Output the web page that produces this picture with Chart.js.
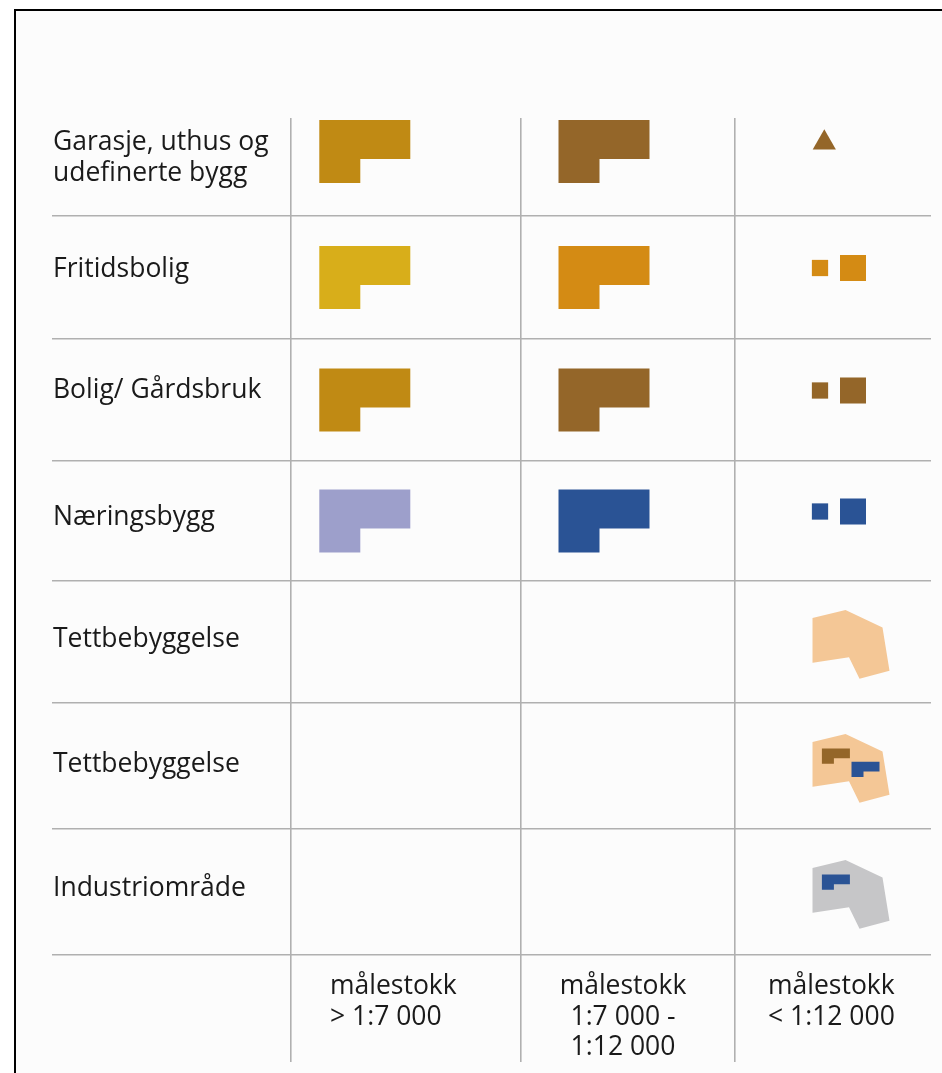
<!DOCTYPE html>
<html lang="no">
<head>
<meta charset="utf-8">
<title>Bygningssymboler etter målestokk</title>
<script src="https://cdn.jsdelivr.net/npm/chart.js@4/dist/chart.umd.min.js"></script>
<style>
  html, body { margin: 0; padding: 0; background: #fff; }
  canvas { display: block; }
</style>
</head>
<body>
<canvas id="legendTable" width="942" height="1073"></canvas>
<script>
  // rows of the table
  const buildingTypes = [
    ['Garasje, uthus og', 'udefinerte bygg'],
    ['Fritidsbolig'],
    ['Bolig/ Gårdsbruk'],
    ['Næringsbygg'],
    ['Tettbebyggelse'],
    ['Tettbebyggelse'],
    ['Industriområde']
  ];
  // columns of the table
  const scaleClasses = [
    ['målestokk', '> 1:7 000'],
    ['målestokk', '1:7 000 -', '1:12 000'],
    ['målestokk', '< 1:12 000']
  ];
  // symbol colour per row and scale class (null = no symbol)
  const largeScaleColours  = ['#c08a14', '#d8ae1a', '#c08a14', '#9d9fcb', null, null, null];
  const mediumScaleColours = ['#946629', '#d48b14', '#946629', '#2a5395', null, null, null];
  const smallScaleSymbols  = ['triangle', 'squares', 'squares', 'squares', 'area', 'area', 'area'];
  const smallScaleColours  = ['#946629', '#d48b14', '#946629', '#2a5395', '#f4c796', '#f4c796', '#c6c6c8'];
  // buildings drawn inside an area symbol: [colour, slot]
  const areaBuildings = [[], [], [], [], [], [['#946629', 'nw'], ['#2a5395', 'se']], [['#2a5395', 'nw']]];

  // ---- layout (axis units = pixels) ----
  const AREA = { left: 52, right: 931, top: 118, bottom: 1062 };
  const colLines = [291, 521, 735];
  const rowLines = [216, 339, 461, 581, 703, 829, 955];
  const firstRowTop = 87;
  const rowMid = i => ((i === 0 ? firstRowTop : rowLines[i - 1]) + rowLines[i]) / 2;
  const labelBaselines = [150, 277, 398, 525, 647, 772, 896];
  const FONT = "'Open Sans', 'Noto Sans', sans-serif";
  const FONT_SIZE = 26.5;
  const LINE_H = 31;
  const headerLines = [994, 1024.5, 1055];
  const headerPos = [[330, 'left'], [623, 'center'], [768, 'left']];

  // symbol templates
  const bigL = [[0, 0], [91, 0], [91, 39], [41, 39], [41, 63], [0, 63]].map(([a, b]) => [a - 45.5, b - 31.5]);
  const miniL = [[0, 0], [28, 0], [28, 9.7], [12, 9.7], [12, 15.3], [0, 15.3]];
  const areaShape = [[-38, -26], [-5, -34], [32, -16.5], [39, 26.7], [9, 34.7], [-1.5, 13.3], [-37.7, 18.8]];
  const miniSlots = { nw: [-28.6, -19.5], se: [1, -6.3] };

  const datasets = [];
  function addShape(template, cx, cy, colour, order) {
    const pts = template.map(([dx, dy]) => ({ x: cx + dx, y: cy + dy }));
    pts.push(pts[0]);
    datasets.push({
      data: pts, showLine: true, fill: 'shape', tension: 0,
      backgroundColor: colour, borderColor: 'rgba(0,0,0,0)', borderWidth: 0,
      pointRadius: 0, pointHoverRadius: 0, order: order
    });
  }

  buildingTypes.forEach((_, i) => {
    const cy = rowMid(i);
    if (largeScaleColours[i]) addShape(bigL, 364.8, cy, largeScaleColours[i], 1);
    if (mediumScaleColours[i]) addShape(bigL, 604, cy, mediumScaleColours[i], 1);
    const sym = smallScaleSymbols[i];
    const col = smallScaleColours[i];
    if (sym === 'triangle') {
      datasets.push({ data: [{ x: 824.3, y: cy - 8.8 }], pointStyle: 'triangle',
        pointRadius: 13.4, pointHoverRadius: 13.4, backgroundColor: col, borderWidth: 0, order: 0 });
    } else if (sym === 'squares') {
      datasets.push({ data: [{ x: 820, y: cy - 9.5 }, { x: 853, y: cy - 9.5 }], pointStyle: 'rect',
        pointRadius: [11.5, 18.4], pointHoverRadius: [11.5, 18.4], backgroundColor: col, borderWidth: 0, order: 0 });
    } else if (sym === 'area') {
      const ay = cy + 2;
      addShape(areaShape, 850.5, ay, col, 2);
      areaBuildings[i].forEach(([c, slot]) => {
        const [dx, dy] = miniSlots[slot];
        addShape(miniL, 850.5 + dx, ay + dy, c, 0);
      });
    }
  });

  const framePlugin = {
    id: 'frame',
    beforeDraw(chart) {
      const ctx = chart.ctx;
      ctx.save();
      ctx.fillStyle = '#ffffff';
      ctx.fillRect(0, 0, chart.width, chart.height);
      ctx.fillStyle = '#fcfcfc';
      ctx.fillRect(15, 10, chart.width - 15, chart.height - 10);
      ctx.fillStyle = '#000000';
      ctx.fillRect(14, 9, 2, chart.height - 9);
      ctx.fillRect(14, 9, chart.width - 14, 2);
      ctx.restore();
    }
  };

  const textPlugin = {
    id: 'tableText',
    afterDatasetsDraw(chart) {
      const { ctx, scales: { x, y } } = chart;
      ctx.save();
      ctx.fillStyle = '#1a1a1a';
      ctx.font = FONT_SIZE + 'px ' + FONT;
      ctx.textBaseline = 'alphabetic';
      ctx.textAlign = 'left';
      buildingTypes.forEach((lines, i) => {
        lines.forEach((t, k) => {
          ctx.fillText(t, x.getPixelForValue(AREA.left + 1), y.getPixelForValue(labelBaselines[i] + k * LINE_H));
        });
      });
      scaleClasses.forEach((lines, j) => {
        ctx.textAlign = headerPos[j][1];
        lines.forEach((t, k) => {
          ctx.fillText(t, x.getPixelForValue(headerPos[j][0]), y.getPixelForValue(headerLines[k]));
        });
      });
      ctx.restore();
    }
  };

  const gridScale = (min, max, lines, extra) => Object.assign({
    type: 'linear', min: min, max: max, display: true,
    border: { display: false },
    ticks: { display: false },
    grid: { drawTicks: false, color: '#b0b0b0', lineWidth: 1.6 },
    afterBuildTicks: s => { s.ticks = lines.map(v => ({ value: v })); },
    afterFit: s => {
      if (s.isHorizontal()) s.height = 0; else s.width = 0;
      s.paddingLeft = s.paddingRight = s.paddingTop = s.paddingBottom = 0;
    }
  }, extra);

  const ctx = document.getElementById('legendTable').getContext('2d');
  const legendChart = new Chart(ctx, {
    type: 'scatter',
    data: { datasets: datasets },
    options: {
      responsive: false,
      animation: false,
      events: [],
      layout: {
        autoPadding: false,
        padding: { left: AREA.left, right: 942 - AREA.right, top: AREA.top, bottom: 1073 - AREA.bottom }
      },
      plugins: { legend: { display: false }, tooltip: { enabled: false } },
      scales: {
        x: gridScale(AREA.left, AREA.right, colLines),
        y: gridScale(AREA.top, AREA.bottom, rowLines, { reverse: true })
      }
    },
    plugins: [framePlugin, textPlugin]
  });
</script>
</body>
</html>
